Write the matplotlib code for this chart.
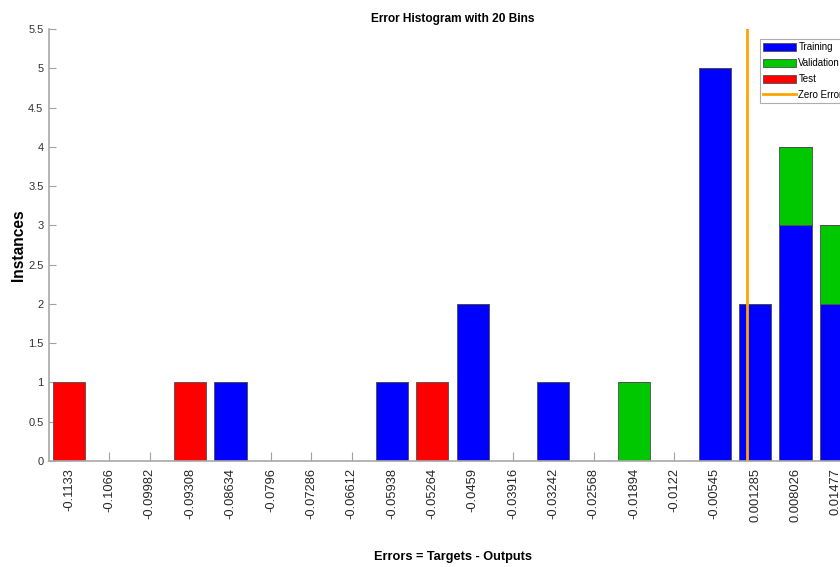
import numpy as np
import matplotlib
matplotlib.use("Agg")
import matplotlib.pyplot as plt
from matplotlib.patches import Patch
from matplotlib.lines import Line2D

plt.rcParams['font.family'] = ['Liberation Sans', 'DejaVu Sans']

# Bin centres (as labelled on the x axis)
bin_labels = ["-0.1133", "-0.1066", "-0.09982", "-0.09308", "-0.08634", "-0.0796",
              "-0.07286", "-0.06612", "-0.05938", "-0.05264", "-0.0459", "-0.03916",
              "-0.03242", "-0.02568", "-0.01894", "-0.0122", "-0.00545", "0.001285",
              "0.008026", "0.01477"]
centers = np.array([float(s) for s in bin_labels])

training   = [0, 0, 0, 0, 1, 0, 0, 0, 1, 0, 2, 0, 1, 0, 0, 0, 5, 2, 3, 2]
validation = [0, 0, 0, 0, 0, 0, 0, 0, 0, 0, 0, 0, 0, 0, 1, 0, 0, 0, 1, 1]
test       = [1, 0, 0, 1, 0, 0, 0, 0, 0, 1, 0, 0, 0, 0, 0, 0, 0, 0, 0, 0]
zero_error = 0.0

W, H = 840, 567
fig = plt.figure(figsize=(W / 100, H / 100), dpi=100)
ax_left, ax_right, ax_bottom, ax_top = 49, 856, 461, 29
ax = fig.add_axes([ax_left / W, (H - ax_bottom) / H,
                   (ax_right - ax_left) / W, (ax_bottom - ax_top) / H])
ax.set_axisbelow(True)

binw = (centers[-1] - centers[0]) / (len(centers) - 1)
barw = 0.8 * binw
tr = np.array(training)
va = np.array(validation)
te = np.array(test)
edge = dict(edgecolor='#4d4d4d', linewidth=0.6)
ax.bar(centers, tr, width=barw, color='#0000ff', **edge)
ax.bar(centers, va, width=barw, bottom=tr, color='#00c800', **edge)
ax.bar(centers, te, width=barw, bottom=tr + va, color='#ff0000', **edge)

ax.axvline(zero_error, color='#ffa500', linewidth=2, zorder=5)

ax.set_xlim(centers[0] - binw / 2, centers[-1] + binw / 2)
ax.set_ylim(0, 5.5)
ax.set_xticks(centers)
ax.set_xticklabels(bin_labels, rotation=90, fontsize=9.3, color='#262626')
yt = np.arange(0, 5.51, 0.5)
ax.set_yticks(yt)
ax.set_yticklabels([f"{v:g}" for v in yt], fontsize=8, color='#333333')
ax.tick_params(direction='in', color='#a0a0a0', width=0.8)
ax.tick_params(axis='x', pad=5, length=6.5)
ax.tick_params(axis='y', pad=4, length=5)

for s in ['top', 'right']:
    ax.spines[s].set_visible(False)
for s in ['left', 'bottom']:
    ax.spines[s].set_color('#a8a8a8')
    ax.spines[s].set_linewidth(1.2)

ax.set_title("Error Histogram with 20 Bins", fontsize=8.6, fontweight='bold', pad=5)
ax.set_xlabel("Errors = Targets - Outputs", fontsize=9.2, fontweight='bold')
ax.xaxis.set_label_coords(0.5, -0.209)
ax.set_ylabel("Instances", fontsize=11.2, fontweight='bold')
ax.yaxis.set_label_coords(-0.028, 0.5)

handles = [Patch(facecolor='#0000ff', edgecolor='#4d4d4d', linewidth=0.6, label='Training'),
           Patch(facecolor='#00c800', edgecolor='#4d4d4d', linewidth=0.6, label='Validation'),
           Patch(facecolor='#ff0000', edgecolor='#4d4d4d', linewidth=0.6, label='Test'),
           Line2D([0], [0], color='#ffa500', linewidth=2, label='Zero Error')]
leg = fig.legend(handles=handles, loc='upper left', bbox_to_anchor=(760 / W, 1 - 39 / H),
                 fontsize=7, frameon=True, fancybox=False, handlelength=3.4,
                 handleheight=0.85, handletextpad=0.2, labelspacing=0.6,
                 borderpad=0.35, borderaxespad=0)
leg.get_frame().set_edgecolor('#999999')
leg.get_frame().set_linewidth(0.8)

fig.savefig("out.png", dpi=100)
